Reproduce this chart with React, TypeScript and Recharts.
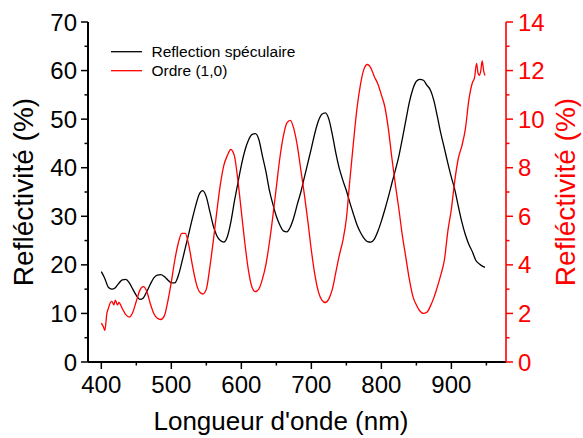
import React from 'react';
import { LineChart, Line, XAxis, YAxis, Label } from 'recharts';

const FONT = '"Liberation Sans", Arial, Helvetica, sans-serif';
const RED = '#ff0000';

// Reflection spéculaire (left axis, %)
const blackNm = [
  400, 405, 410, 415, 420, 425, 430, 435, 440, 445, 450, 455, 460, 465, 470, 475, 480, 485, 490, 495,
  500, 505, 510, 515, 520, 525, 530, 535, 540, 545, 550, 555, 560, 565, 570, 575, 580, 585, 590, 595,
  600, 605, 610, 615, 620, 625, 630, 635, 640, 645, 650, 655, 660, 665, 670, 675, 680, 685, 690, 695,
  700, 705, 710, 715, 720, 725, 730, 735, 740, 745, 750, 755, 760, 765, 770, 775, 780, 785, 790, 795,
  800, 805, 810, 815, 820, 825, 830, 835, 840, 845, 850, 855, 860, 865, 870, 875, 880, 885, 890, 895,
  900, 905, 910, 915, 920, 925, 930, 935, 940, 945, 948,
];
const blackPct = [
  18.6, 17.2, 15.4, 15.0, 15.3, 16.2, 16.9, 17.0, 16.3, 15.0, 13.7, 12.9, 13.2, 14.5, 16.0, 17.3, 17.9, 18.0, 17.6, 16.9,
  16.3, 16.3, 17.8, 20.5, 23.5, 26.5, 29.5, 32.3, 34.6, 35.3, 34.0, 31.0, 28.0, 26.0, 25.0, 24.7, 25.8, 28.8, 33.0, 36.8,
  40.5, 43.5, 45.6, 46.8, 47.0, 45.8, 42.5, 39.3, 35.4, 32.5, 30.0, 28.2, 27.0, 26.8, 27.8, 29.8, 32.5, 35.0, 38.0, 41.0,
  44.0, 47.1, 49.6, 51.0, 51.3, 50.0, 46.8, 43.0, 39.8, 37.4, 35.3, 32.8, 30.5, 28.3, 26.7, 25.5, 24.8, 24.7, 25.3, 26.9,
  29.0, 31.4, 34.0, 36.8, 39.5, 42.4, 46.0, 49.8, 53.5, 56.2, 57.8, 58.2, 58.0, 57.0, 56.0, 53.8, 50.5, 47.0, 44.0, 40.9,
  38.0, 35.4, 32.0, 28.8, 26.2, 24.2, 22.7, 20.9, 20.2, 19.7, 19.5,
];

// Ordre (1,0) (right axis, %)
const redNm = [
  400, 403, 405, 408, 410, 413, 415, 418, 420, 423, 425, 430, 435, 440, 445, 450, 455, 460, 465, 470,
  475, 480, 485, 490, 495, 500, 505, 510, 515, 520, 525, 530, 535, 540, 545, 550, 555, 560, 565, 570,
  575, 580, 585, 590, 595, 600, 605, 610, 615, 620, 625, 630, 635, 640, 645, 650, 655, 660, 665, 670,
  675, 680, 685, 690, 695, 700, 705, 710, 715, 720, 725, 730, 735, 740, 745, 750, 755, 760, 765, 770,
  775, 780, 785, 790, 795, 800, 805, 810, 815, 820, 825, 830, 835, 840, 845, 850, 855, 860, 865, 870,
  875, 880, 885, 890, 895, 900, 905, 910, 915, 920, 925, 930, 933, 936, 938, 940, 942, 944, 946, 948,
];
const redPct = [
  1.6, 1.45, 1.3, 2.0, 2.2, 2.45, 2.5, 2.35, 2.55, 2.35, 2.45, 2.2, 1.95, 1.85, 2.05, 2.5, 2.95, 3.1, 2.9, 2.4,
  2.0, 1.8, 1.75, 1.9, 2.5, 3.3, 4.2, 4.9, 5.3, 5.3, 4.8, 4.0, 3.3, 2.9, 2.8, 3.0, 3.9, 5.0, 6.2, 7.3,
  8.1, 8.5, 8.75, 8.5, 7.5, 6.2, 4.9, 3.8, 3.1, 2.9, 3.0, 3.4, 4.0, 4.9, 6.0, 7.2, 8.4, 9.3, 9.85, 9.95,
  9.6, 8.9, 7.9, 6.9, 5.8, 4.6, 3.6, 2.9, 2.55, 2.45, 2.6, 3.0, 3.7, 4.4, 5.0, 5.9, 7.5, 9.0, 10.4, 11.4,
  12.05, 12.25, 12.1, 11.75, 11.45, 11.0, 10.5, 9.6, 8.4, 7.3, 6.3, 5.2, 4.3, 3.4, 2.7, 2.35, 2.1, 2.0, 2.05, 2.3,
  2.65, 3.1, 3.6, 4.2, 5.4, 6.3, 7.5, 8.4, 8.9, 9.6, 10.8, 11.5, 11.7, 12.3, 11.9, 11.8, 12.0, 12.4, 12.0, 11.8,
];

const xTicks = [400, 450, 500, 550, 600, 650, 700, 750, 800, 850, 900, 950];
const leftTicks = [0, 5, 10, 15, 20, 25, 30, 35, 40, 45, 50, 55, 60, 65, 70];
const rightTicks = [0, 1, 2, 3, 4, 5, 6, 7, 8, 9, 10, 11, 12, 13, 14];

const legendItems = [
  { name: 'Reflection spéculaire', color: '#000' },
  { name: 'Ordre (1,0)', color: RED },
];

const blackData = blackNm.map((nm, i) => ({ nm, v: blackPct[i] }));
const redData = redNm.map((nm, i) => ({ nm, v: redPct[i] }));

const BottomTick = (p: any) => {
  const v = p.payload.value;
  const major = v % 100 === 0 && v <= 900;
  return (
    <g>
      <line x1={p.x} x2={p.x} y1={p.y} y2={p.y + (major ? 7 : 3.5)} stroke="#000" strokeWidth={1.5} />
      {major && (
        <text x={p.x} y={p.y + 31} textAnchor="middle" fontSize={24} fontFamily={FONT} fill="#000">
          {v}
        </text>
      )}
    </g>
  );
};

const TopTick = (p: any) => {
  const major = p.payload.value % 100 === 0;
  return <line x1={p.x} x2={p.x} y1={p.y} y2={p.y + (major ? 7 : 3.5)} stroke="#000" strokeWidth={1.5} />;
};

const LeftTick = (p: any) => {
  const v = p.payload.value;
  const major = v % 10 === 0;
  return (
    <g>
      <line x1={p.x} x2={p.x - (major ? 7 : 3.5)} y1={p.y} y2={p.y} stroke="#000" strokeWidth={1.5} />
      {major && (
        <text x={p.x - 11} y={p.y + 8.5} textAnchor="end" fontSize={24} fontFamily={FONT} fill="#000">
          {v}
        </text>
      )}
    </g>
  );
};

const RightTick = (p: any) => {
  const v = p.payload.value;
  const major = v % 2 === 0;
  return (
    <g>
      <line x1={p.x} x2={p.x + (major ? 7 : 3.5)} y1={p.y} y2={p.y} stroke={RED} strokeWidth={1.5} />
      {major && (
        <text x={p.x + 12} y={p.y + 8.5} textAnchor="start" fontSize={24} fontFamily={FONT} fill={RED}>
          {v}
        </text>
      )}
    </g>
  );
};

export default function App() {
  return (
    <div style={{ position: 'absolute', left: 0, top: 0, width: 583, height: 438, background: '#fff' }}>
      <LineChart width={583} height={438} margin={{ top: 22, right: 0, bottom: 0, left: 0 }}>
        <XAxis
          xAxisId="bottom"
          type="number"
          dataKey="nm"
          domain={[381, 978]}
          allowDataOverflow
          ticks={xTicks}
          interval={0}
          height={76}
          tickSize={0}
          tickMargin={0}
          tickLine={false}
          tick={(p: any) => <BottomTick {...p} />}
          axisLine={{ stroke: '#000', strokeWidth: 2 }}
        >
          <Label
            content={() => (
              <text x={281} y={430} textAnchor="middle" fontSize={26} fontFamily={FONT} fill="#000">
                Longueur d'onde (nm)
              </text>
            )}
          />
        </XAxis>
        <XAxis
          xAxisId="top"
          orientation="top"
          type="number"
          dataKey="nm"
          domain={[381, 978]}
          allowDataOverflow
          ticks={xTicks}
          interval={0}
          height={0}
          tickSize={0}
          tickMargin={0}
          tickLine={false}
          tick={(p: any) => <TopTick {...p} />}
          axisLine={{ stroke: '#000', strokeWidth: 2 }}
        />
        <YAxis
          yAxisId="left"
          type="number"
          domain={[0, 70]}
          allowDataOverflow
          ticks={leftTicks}
          interval={0}
          width={88}
          tickSize={0}
          tickMargin={0}
          tickLine={false}
          tick={(p: any) => <LeftTick {...p} />}
          axisLine={{ stroke: '#000', strokeWidth: 2 }}
        >
          <Label
            content={() => (
              <text
                x={33}
                y={192}
                transform="rotate(-90, 33, 192)"
                textAnchor="middle"
                fontSize={28}
                fontFamily={FONT}
                fill="#000"
              >
                Refléctivité (%)
              </text>
            )}
          />
        </YAxis>
        <YAxis
          yAxisId="right"
          orientation="right"
          type="number"
          domain={[0, 14]}
          allowDataOverflow
          ticks={rightTicks}
          interval={0}
          width={77}
          tickSize={0}
          tickMargin={0}
          tickLine={false}
          tick={(p: any) => <RightTick {...p} />}
          axisLine={{ stroke: RED, strokeWidth: 1.6 }}
        >
          <Label
            content={() => (
              <text
                x={575}
                y={192}
                transform="rotate(-90, 575, 192)"
                textAnchor="middle"
                fontSize={28}
                fontFamily={FONT}
                fill={RED}
              >
                Refléctivité (%)
              </text>
            )}
          />
        </YAxis>
        <Line
          xAxisId="bottom"
          yAxisId="left"
          data={blackData}
          dataKey="v"
          type="monotone"
          stroke="#000"
          strokeWidth={1.3}
          dot={false}
          isAnimationActive={false}
        />
        <Line
          xAxisId="bottom"
          yAxisId="right"
          data={redData}
          dataKey="v"
          type="monotone"
          stroke={RED}
          strokeWidth={1.3}
          dot={false}
          isAnimationActive={false}
        />
      </LineChart>
      <svg
        width={583}
        height={438}
        style={{ position: 'absolute', left: 0, top: 0, pointerEvents: 'none' }}
      >
        {legendItems.map((it, i) => (
          <g key={it.name}>
            <line x1={111} x2={142} y1={51.7 + i * 19} y2={51.7 + i * 19} stroke={it.color} strokeWidth={1.3} />
            <text x={151.5} y={57.2 + i * 19} fontSize={15.5} fontFamily={FONT} fill="#000">
              {it.name}
            </text>
          </g>
        ))}
      </svg>
    </div>
  );
}
